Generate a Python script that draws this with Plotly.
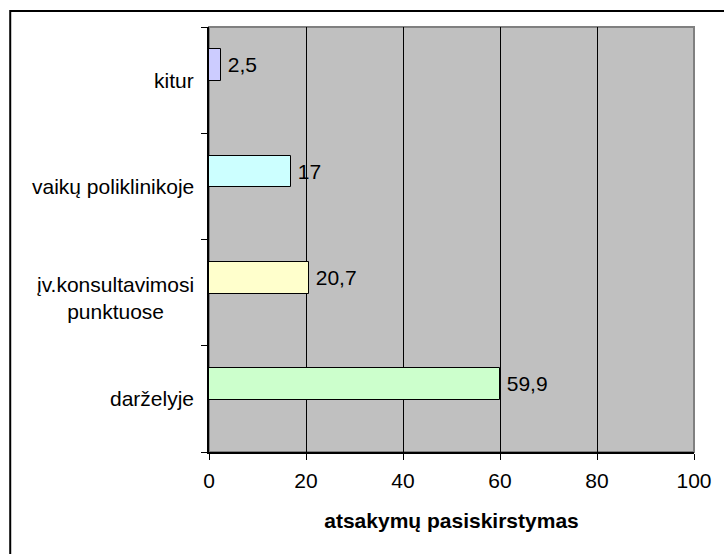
import plotly.graph_objects as go

# data (bottom to top, as drawn)
categories = ["darželyje", "įv.konsultavimosi punktuose", "vaikų poliklinikoje", "kitur"]
label_texts = ["darželyje", "įv.konsultavimosi<br>punktuose", "vaikų poliklinikoje", "kitur"]
values = [59.9, 20.7, 17, 2.5]
value_labels = ["59,9", "20,7", "17", "2,5"]
bar_colors = ["#CCFFCC", "#FFFFCC", "#CCFFFF", "#CCCCFF"]
x_ticks = [0, 20, 40, 60, 80, 100]

FONT = "Liberation Sans, Arial, sans-serif"
FS = 21

fig = go.Figure()
fig.add_trace(go.Bar(
    y=categories,
    x=values,
    orientation="h",
    width=0.3,
    offset=-0.01,
    marker=dict(color=bar_colors, line=dict(color="black", width=1)),
    text=value_labels,
    texttemplate="\u2009%{text}",
    textposition="outside",
    constraintext="none",
    cliponaxis=False,
    textfont=dict(family=FONT, size=FS, color="black"),
    hoverinfo="skip",
))

# category labels (centered multi-line, right-anchored)
for c, t in zip(categories, label_texts):
    fig.add_annotation(
        x=-0.026, xref="paper", y=c, yref="y",
        text=t, showarrow=False, xanchor="right", yanchor="middle",
        yshift=-5 if "<br>" in t else 0,
        align="center", font=dict(family=FONT, size=FS, color="black"),
    )

# plot area border (gray) and outer chart frame
fig.add_shape(type="rect", xref="paper", yref="paper", x0=0, y0=0, x1=1, y1=1,
              line=dict(color="#808080", width=2), layer="below")
fig.add_shape(type="rect", xref="paper", yref="paper",
              x0=(9 - 209) / 488, y0=-0.4, x1=1.2, y1=(452 - 11) / 425,
              line=dict(color="black", width=2))

fig.update_layout(
    width=724, height=554,
    margin=dict(l=209, r=27, t=27, b=102),
    paper_bgcolor="white",
    plot_bgcolor="#C0C0C0",
    showlegend=False,
    font=dict(family=FONT, size=FS, color="black"),
    bargap=0,
)
fig.update_xaxes(
    range=[0, 100], tickvals=x_ticks, ticktext=[str(v) for v in x_ticks],
    showgrid=True, gridcolor="black", gridwidth=1,
    showline=True, linecolor="black", linewidth=2,
    ticks="outside", ticklen=6, tickcolor="black", tickwidth=1,
    ticklabelstandoff=3,
    zeroline=False,
    tickfont=dict(family=FONT, size=FS),
    title=dict(text="<b>atsakymų pasiskirstymas</b>", standoff=22,
               font=dict(family=FONT, size=FS)),
)
fig.update_yaxes(
    type="category", categoryorder="array", categoryarray=categories,
    showticklabels=False,
    showgrid=False, zeroline=False,
    showline=True, linecolor="black", linewidth=2,
    ticks="outside", ticklen=6, tickcolor="black", tickwidth=1,
    tickson="boundaries",
)

fig.write_html(
    "out.html",
    config={"displayModeBar": False},
    post_script="document.body.style.margin='0';document.body.style.overflow='hidden';",
)
